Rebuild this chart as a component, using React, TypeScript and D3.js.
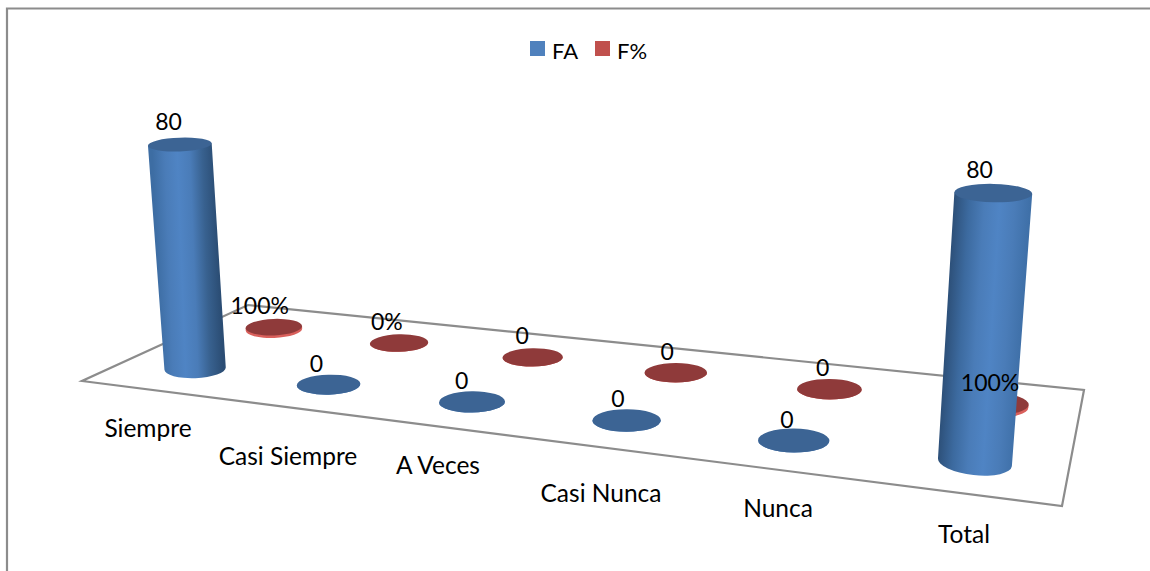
import React from "react";
import * as d3 from "d3";

const categories = ["Siempre", "Casi Siempre", "A Veces", "Casi Nunca", "Nunca", "Total"];
const seriesNames = ["FA", "F%"];
const faValues = [80, 0, 0, 0, 0, 80];
const fpValues = [1, 0, 0, 0, 0, 1];
const faLabels = ["80", "0", "0", "0", "0", "80"];
const fpLabels = ["100%", "0%", "0", "0", "0", "100%"];

const W = 1150;
const H = 571;
const FONT = "Lato, Carlito, Calibri, sans-serif";

type Pt = [number, number];

// Corners of the chart floor on screen: front-left, front-right, back-right, back-left.
const floorCorners: Pt[] = [[82, 381], [1062, 506], [1084, 390], [248, 305]];
// All upright edges converge on this point far below the chart.
const verticalVanish: Pt = [585, 6135];
// Columns sit slightly off the floor's grid centres.
const markOffset: Pt = [3, 1.5];

// Unit square to screen homography for the floor plane.
function makeFloor(c: Pt[]) {
  const [p0, p1, p2, p3] = c;
  const dx1 = p1[0] - p2[0], dx2 = p3[0] - p2[0], sx = p0[0] - p1[0] + p2[0] - p3[0];
  const dy1 = p1[1] - p2[1], dy2 = p3[1] - p2[1], sy = p0[1] - p1[1] + p2[1] - p3[1];
  const den = dx1 * dy2 - dx2 * dy1;
  const g = (sx * dy2 - dx2 * sy) / den;
  const h = (dx1 * sy - sx * dy1) / den;
  const a = p1[0] - p0[0] + g * p1[0], b = p3[0] - p0[0] + h * p3[0], e0 = p0[0];
  const d = p1[1] - p0[1] + g * p1[1], e = p3[1] - p0[1] + h * p3[1], f0 = p0[1];
  return (u: number, v: number) => ({
    X: a * u + b * v + e0,
    Y: d * u + e * v + f0,
    w: g * u + h * v + 1,
  });
}
const floor = makeFloor(floorCorners);

const uScale = d3.scalePoint<string>().domain(categories).range([0, 1]).padding(0.5);
const vScale = d3.scalePoint<string>().domain(seriesNames).range([0, 1]).padding(0.5);
// Value to homogeneous lift along the vertical vanishing direction.
const lift = d3.scaleLinear().domain([0, 80]).range([0, -0.0384]);
// The camera looks more steeply at points lower on the screen.
const flatten = d3.scaleLinear().domain([140, 470]).range([0.215, 0.35]);
// Ellipse roll: discs and column tops stay nearly level, tall column feet roll more.
const tilt = d3.scaleLinear().domain([0, 1]).range([-2.5, 1.5]);
const footTilt = d3.scaleLinear().domain([0, 1]).range([-3, 7]);
const labelShift = d3.scaleLinear().domain([0, 1]).range([-15, -4]);
const tallLabelShift = d3.scaleLinear().domain([0, 1]).range([-11, -14]);
const RADIUS = 31.5;

function project(u: number, v: number, value: number) {
  const p = floor(u, v);
  const hk = lift(value);
  const w = p.w + hk;
  return {
    x: (p.X + hk * verticalVanish[0]) / w + markOffset[0],
    y: (p.Y + hk * verticalVanish[1]) / w + markOffset[1],
    rx: RADIUS / w,
  };
}

function Cylinder({ cat, series, value, id, side, top, rim }: {
  cat: string; series: string; value: number; id: string; side: string[]; top: string; rim: string;
}) {
  const u = uScale(cat)!;
  const v = vScale(series)!;
  const b = project(u, v, 0);
  const t = project(u, v, value);
  const tall = value > 10;
  const rotTop = tilt(u);
  const rotFoot = tall ? footTilt(u) : rotTop;
  const end = (c: typeof b, s: number, rot: number): Pt => {
    const rad = (rot * Math.PI) / 180;
    return [c.x + s * c.rx * Math.cos(rad), c.y + s * c.rx * Math.sin(rad)];
  };
  const bRy = b.rx * flatten(b.y);
  const tRy = t.rx * flatten(t.y);
  const [tlx, tly] = end(t, -1, rotTop);
  const [trx, try_] = end(t, 1, rotTop);
  const [brx, bry] = end(b, 1, rotFoot);
  const [blx, bly] = end(b, -1, rotFoot);
  const body = `M${tlx},${tly}L${trx},${try_}L${brx},${bry}A${b.rx},${bRy} ${rotFoot} 0 1 ${blx},${bly}Z`;
  const stops = d3.scaleLinear().domain([0, side.length - 1]).range([0, 100]);
  const mx = (tlx + blx) / 2, my = (tly + bly) / 2, nx = (trx + brx) / 2, ny = (try_ + bry) / 2;
  return (
    <g>
      <defs>
        <linearGradient id={id} gradientUnits="userSpaceOnUse" x1={mx} y1={my} x2={nx} y2={ny}>
          {side.map((c, i) => <stop key={i} offset={`${stops(i)}%`} stopColor={c} />)}
        </linearGradient>
      </defs>
      <path d={body} fill={tall ? `url(#${id})` : rim} />
      <ellipse cx={t.x} cy={t.y} rx={t.rx} ry={tRy} fill={top} transform={`rotate(${rotTop} ${t.x} ${t.y})`} />
    </g>
  );
}

const leftShade = ["#3d6da3", "#4a7cb8", "#4f84c4", "#4a7cb8", "#38618f", "#2b4d74"];
const rightShade = ["#2d5079", "#3c6a9f", "#4a7cb8", "#4f84c4", "#4a7cb8", "#3f70a8"];
const redShade = ["#c0504d", "#c0504d"];

const categoryLabelY = d3.scaleOrdinal<string, number>().domain(categories).range([427, 455, 464, 492, 507, 533]);
const categoryLabelX = d3.scaleOrdinal<string, number>().domain(categories).range([148, 288, 438, 601, 778, 964]);

function ValueLabel({ cat, series, value, text }: { cat: string; series: string; value: number; text: string }) {
  const u = uScale(cat)!;
  const t = project(u, vScale(series)!, value);
  const dx = value > 10 ? tallLabelShift(u) : labelShift(u);
  const dy = value > 10 ? -24 : -22;
  return (
    <text x={t.x + dx} y={t.y + dy} textAnchor="middle" dominantBaseline="central"
      fontFamily={FONT} fontSize={23} fill="#000">{text}</text>
  );
}

export default function App() {
  const fl = floorCorners.map((p) => p.join(",")).join(" ");
  return (
    <svg width={W} height={H} style={{ position: "absolute", left: 0, top: 0, background: "#fff" }}>
      {/* chart frame: the top and left edges are the only ones in view */}
      <path d={`M7,${H}V8.5H${W}`} fill="none" stroke="#8c8c8c" strokeWidth={2.2} />

      <polygon points={fl} fill="#fff" stroke="#8c8c8c" strokeWidth={2.2} />

      {/* back row first so the front row can overlap it */}
      {categories.map((c, i) => (
        <Cylinder key={c} cat={c} series="F%" value={fpValues[i]} id={`fp${i}`}
          side={redShade} top="#8f3a3a" rim="#d9605c" />
      ))}
      {categories.map((c, i) => (
        <Cylinder key={c} cat={c} series="FA" value={faValues[i]} id={`fa${i}`}
          side={i === 0 ? leftShade : rightShade} top="#3c6494" rim="#4f81bd" />
      ))}

      {categories.map((c, i) => (
        <ValueLabel key={c} cat={c} series="F%" value={fpValues[i]} text={fpLabels[i]} />
      ))}
      {categories.map((c, i) => (
        <ValueLabel key={c} cat={c} series="FA" value={faValues[i]} text={faLabels[i]} />
      ))}

      {categories.map((c) => (
        <text key={c} x={categoryLabelX(c)} y={categoryLabelY(c)} textAnchor="middle"
          dominantBaseline="central" fontFamily={FONT} fontSize={24.5} fill="#000">{c}</text>
      ))}

      {/* legend */}
      <g fontFamily={FONT} fontSize={22} fill="#000">
        <rect x={530} y={41} width={15} height={15} fill="#4f81bd" />
        <text x={552} y={50} dominantBaseline="central">{seriesNames[0]}</text>
        <rect x={595} y={41} width={15} height={15} fill="#c0504d" />
        <text x={617} y={50} dominantBaseline="central">{seriesNames[1]}</text>
      </g>
    </svg>
  );
}
